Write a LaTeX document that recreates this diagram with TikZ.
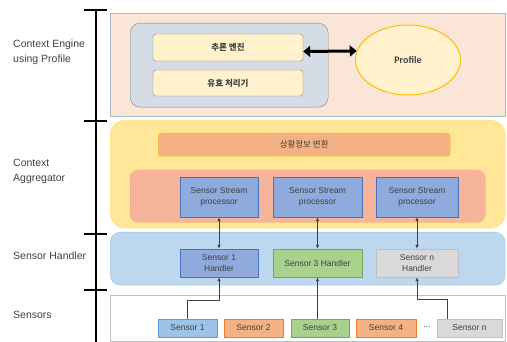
\documentclass[tikz,border=0pt]{standalone}
\usepackage{fontspec}
\setmainfont{Liberation Sans}
\newfontfamily\krfont{Noto Sans CJK KR}
\newfontfamily\calfont{Carlito}
\usetikzlibrary{positioning,arrows.meta,shapes.geometric}

\definecolor{txtgray}{HTML}{404040}
\definecolor{enginebg}{HTML}{FBE5D6}
\definecolor{engineline}{HTML}{A9B9CC}
\definecolor{innerbg}{HTML}{D6DCE5}
\definecolor{paleyellow}{HTML}{FFF2CC}
\definecolor{gold}{HTML}{FFC000}
\definecolor{aggbg}{HTML}{FFE699}
\definecolor{aggline}{HTML}{FFD966}
\definecolor{peach}{HTML}{F4B183}
\definecolor{salmon}{HTML}{F6B49A}
\definecolor{salmonline}{HTML}{F4A582}
\definecolor{procblue}{HTML}{8FAADC}
\definecolor{procline}{HTML}{4472C4}
\definecolor{handbg}{HTML}{BDD7EE}
\definecolor{handline}{HTML}{9DC3E6}
\definecolor{lightgreen}{HTML}{A9D18E}
\definecolor{greenline}{HTML}{70AD47}
\definecolor{lightgray}{HTML}{D9D9D9}
\definecolor{grayline}{HTML}{BFBFBF}
\definecolor{skyblue}{HTML}{9DC3E6}
\definecolor{skyline}{HTML}{5B9BD5}
\definecolor{orangeline}{HTML}{ED7D31}

\begin{document}
\begin{tikzpicture}[%
  x=1pt, y=-1pt,
  layer/.style={anchor=west, align=left, inner sep=0pt, text=txtgray,
    font=\fontsize{10.5}{15}\selectfont},
  panel/.style={draw, anchor=north west, inner sep=0pt},
  box/.style={draw, inner sep=1pt, align=center, text=txtgray,
    font=\fontsize{8.5}{11}\selectfont},
  krbox/.style={box, rounded corners=3pt, fill=paleyellow, draw=gray,
    minimum width=150pt, font=\krfont\bfseries\fontsize{8.5}{10}\selectfont},
  proc/.style={box, fill=procblue, draw=procline, minimum height=40pt},
  handler/.style={box, minimum height=28pt},
  sensor/.style={box, minimum height=18pt, minimum width=59pt},
  link/.style={-{Latex[length=4pt,width=3.5pt]}, draw=txtgray, line width=0.8pt},
  twoway/.style={link, {Latex[length=4pt,width=3.5pt]}-{Latex[length=4pt,width=3.5pt]}},
  scaleline/.style={line width=1.4pt}]
  \useasboundingbox (0,0) rectangle (507,342);

  % layer scale on the left
  \draw[scaleline] (96,10) -- (96,342);
  \foreach \y in {10,121,234,290}
    \draw[scaleline] (84,\y) -- (107,\y);
  \node[layer] (lengine) at (13,52) {Context Engine\\using Profile};
  \node[layer] (lagg) at (13,171) {Context\\Aggregator};
  \node[layer] (lhandler) at (13,256) {Sensor Handler};
  \node[layer] (lsensors) at (13,315) {Sensors};

  % context engine
  \node[panel, fill=enginebg, draw=engineline, minimum width=395pt,
    minimum height=103pt] (engine) at (110,13) {};
  \node[panel, fill=innerbg, draw=gray, rounded corners=10pt,
    minimum width=198pt, minimum height=84pt] (inner) at (130,23) {};
  \node[krbox, minimum height=27pt] (infer) at (228,47.5) {추론 엔진};
  \node[krbox, minimum height=26pt] (valid) at (228,83) {유효 처리기};
  \node[ellipse, draw=gold, line width=1pt, fill=paleyellow, minimum width=105pt,
    minimum height=70pt, text=txtgray, font=\calfont\bfseries\fontsize{10}{11}\selectfont]
    (profile) at (408,60) {Profile};
  \draw[{Triangle[length=7pt,width=11pt]}-{Triangle[length=7pt,width=11pt]}, line width=3pt]
    ([yshift=-4pt]infer.east) -- (profile.170);

  % context aggregator
  \node[panel, fill=aggbg, draw=aggline, rounded corners=15pt, minimum width=395pt,
    minimum height=108pt] (agg) at (110,120) {};
  \node[panel, fill=peach, draw=gold, rounded corners=3pt, minimum width=292pt,
    minimum height=23pt, text=txtgray, font=\krfont\fontsize{8.5}{10}\selectfont]
    (convert) at (158,133) {상황정보 변환};
  \node[panel, fill=salmon, draw=salmonline, rounded corners=8pt, minimum width=355pt,
    minimum height=52pt] (streams) at (130,170) {};
  \node[proc, minimum width=78pt] (proc1) at (219,197) {Sensor Stream\\processor};
  \node[proc, minimum width=89pt] (proc2) at (317.5,197) {Sensor Stream\\processor};
  \node[proc, minimum width=82pt] (proc3) at (417,197) {Sensor Stream\\processor};

  % sensor handler
  \node[panel, fill=handbg, draw=handline, rounded corners=10pt, minimum width=395pt,
    minimum height=53pt] (handlers) at (110,232) {};
  \node[handler, fill=procblue, draw=procline, minimum width=78pt]
    (h1) at (219,263) {Sensor 1\\Handler};
  \node[handler, fill=lightgreen, draw=greenline, minimum width=89pt]
    (h3) at (317.5,263) {Sensor 3 Handler};
  \node[handler, fill=lightgray, draw=grayline, minimum width=82pt]
    (hn) at (417,263) {Sensor n\\Handler};

  % sensors
  \node[panel, fill=white, draw=grayline, minimum width=395pt,
    minimum height=46pt] (sensors) at (110,295) {};
  \node[sensor, fill=skyblue, draw=skyline] (s1) at (187.5,328) {Sensor 1};
  \node[sensor, fill=peach, draw=orangeline] (s2) at (253.5,328) {Sensor 2};
  \node[sensor, fill=lightgreen, draw=greenline, minimum width=58pt] (s3) at (320,328) {Sensor 3};
  \node[sensor, fill=peach, draw=orangeline, minimum width=60pt] (s4) at (386,328) {Sensor 4};
  \node[text=txtgray, font=\fontsize{8.5}{10}\selectfont] (dots) at (427,327) {...};
  \node[sensor, fill=lightgray, draw=grayline, minimum width=65pt] (sn) at (469.5,328) {Sensor n};

  % connectors
  \draw[twoway] (proc1.south) -- (h1.north);
  \draw[twoway] (proc2.south) -- (h3.north);
  \draw[twoway] (proc3.south) -- (hn.north);
  \draw[link] (s1.north) |- ([yshift=-23pt]h1.south) -- (h1.south);
  \draw[link] (s3.north -| h3.south) -- (h3.south);
  \draw[link] ([xshift=-22pt]sn.north) |- ([yshift=-22pt]hn.south) -- (hn.south);
\end{tikzpicture}
\end{document}
